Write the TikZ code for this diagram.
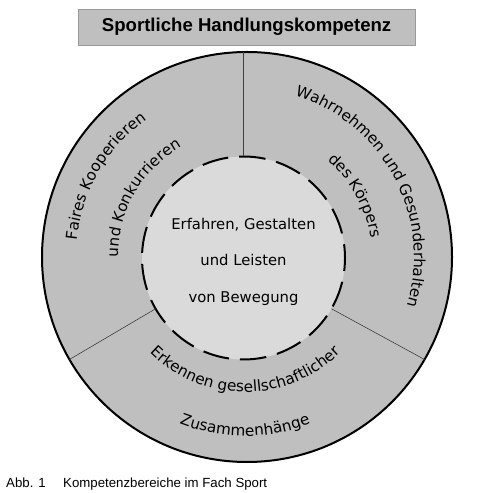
\documentclass[tikz,border=0pt]{standalone}
\usepackage{fontspec}
\newfontfamily\dejavu{DejaVu Sans}
\newfontfamily\arialfont{Liberation Sans}
\usetikzlibrary{decorations.text}
\definecolor{ringgray}{gray}{0.75}
\definecolor{coregray}{gray}{0.855}
\definecolor{titlegray}{gray}{0.75}
\definecolor{titleborder}{gray}{0.6}
\definecolor{divider}{gray}{0.25}
\newcommand{\ringfont}{\dejavu\fontsize{15.3}{18}\selectfont}
\tikzset{
  ringtext/.style={decorate, decoration={text along path, text align=center, text={|\ringfont|#1}}},
  divline/.style={draw=divider, line width=0.6pt},
  titlebox/.style={draw=titleborder, fill=titlegray, line width=0.8pt, minimum width=336.7pt, minimum height=35.7pt, inner sep=0pt, font=\arialfont\bfseries\fontsize{18.6}{22}\selectfont},
  captext/.style={anchor=base west, inner sep=0pt, font=\arialfont\fontsize{13.25}{16}\selectfont}
}
\begin{document}
\begin{tikzpicture}[x=1pt,y=1pt]
\useasboundingbox (0,0) rectangle (494,492);
% title
\node[titlebox] (title) at (246.6,464.8) {Sportliche Handlungskompetenz};
% circles
\node[circle, draw=black, fill=ringgray, line width=2pt, minimum size=410pt, inner sep=0pt, outer sep=0pt] (outer) at (247,235) {};
\node[circle, draw=black, fill=coregray, line width=2pt, minimum size=203pt, inner sep=0pt, outer sep=0pt,
      dash pattern=on 26.5pt off 11pt, dash phase=12.7pt] (inner) at (243.5,234) {};
% dividers
\draw[divline] (inner.north) -- (inner.north |- outer.north);
\draw[divline] (inner.210) -- (outer.210);
\draw[divline] (inner.330) -- (outer.330);
% centre text
\node[align=center, font=\dejavu\fontsize{14.8}{36.5}\selectfont, inner sep=0pt] (core) at (243.5,230.3) {Erfahren, Gestalten\\und Leisten\\von Bewegung};
% ring texts
\coordinate (C) at (245,235);
\path[ringtext={Faires Kooperieren}] ([shift={(210:169)}]C) arc[start angle=210, end angle=90, radius=169];
\path[ringtext={und Konkurrieren}] ([shift={(210:127)}]C) arc[start angle=210, end angle=90, radius=127];
\path[ringtext={Wahrnehmen und Gesunderhalten}] ([shift={(88:169)}]C) arc[start angle=88, end angle=-32, radius=169];
\path[ringtext={des Körpers}] ([shift={(89:127)}]C) arc[start angle=89, end angle=-31, radius=127];
\path[ringtext={Erkennen gesellschaftlicher}] ([shift={(210:135)}]C) arc[start angle=210, end angle=330, radius=135];
\path[ringtext={Zusammenhänge}] ([shift={(210:179)}]C) arc[start angle=210, end angle=330, radius=179];
% caption
\node[captext] (abb) at (6,4.5) {Abb. 1};
\node[captext] (cap) at (63,4.5) {Kompetenzbereiche im Fach Sport};
\end{tikzpicture}
\end{document}
